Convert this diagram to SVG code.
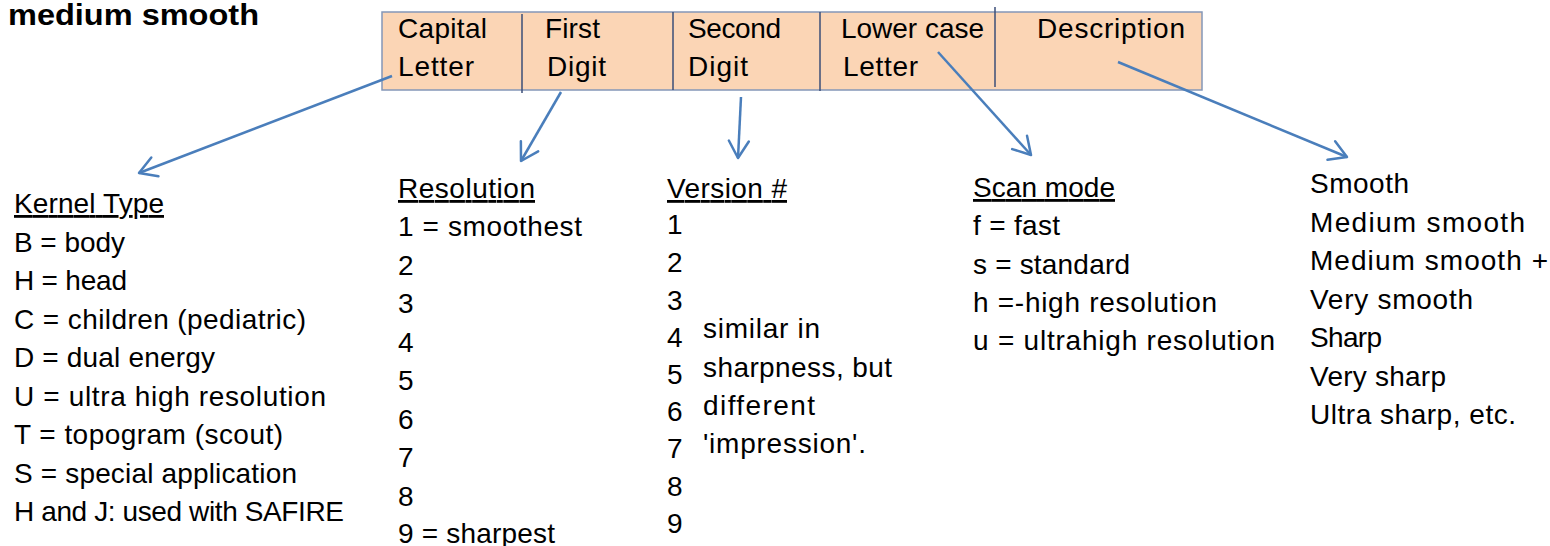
<svg xmlns="http://www.w3.org/2000/svg" width="1550" height="546" viewBox="0 0 1550 546">
<style>
text{font-family:"Liberation Sans",Arial,sans-serif;font-size:28px;fill:#000}
.title{font-weight:bold;font-size:29px}
.u{text-decoration:underline}
.conn{stroke:#4a7ebb;stroke-width:2.5;fill:none;marker-end:url(#ah)}
.div{stroke:#3b4e78;stroke-width:1.5}
</style>
<defs>
<marker id="ah" viewBox="0 -12 24 24" refX="20" refY="0" markerWidth="24" markerHeight="24" markerUnits="userSpaceOnUse" orient="auto">
<path d="M3,-10 L20,0 L3,10" fill="none" stroke="#4a7ebb" stroke-width="2.5" stroke-linecap="round" stroke-linejoin="round"/>
</marker>
</defs>
<rect width="1550" height="546" fill="#fff"/>
<text class="title" x="8" y="25" textLength="251" lengthAdjust="spacingAndGlyphs">medium smooth</text>

<g id="header">
<rect x="382" y="12" width="820" height="78" fill="#fbd5b5" stroke="#8497b8" stroke-width="1.5"/>
<line class="div" x1="522" y1="14" x2="522" y2="93"/>
<line class="div" x1="673" y1="12" x2="673" y2="90"/>
<line class="div" x1="820" y1="12" x2="820" y2="91"/>
<line class="div" x1="995" y1="7" x2="995" y2="87" stroke="#1f2f5f"/>
<text x="398" y="38" textLength="89">Capital</text>
<text x="398" y="76" textLength="76">Letter</text>
<text x="545" y="38" textLength="55">First</text>
<text x="547" y="76" textLength="59">Digit</text>
<text x="688" y="38" textLength="93">Second</text>
<text x="688" y="76" textLength="60">Digit</text>
<text x="841" y="38" textLength="143">Lower case</text>
<text x="843" y="76" textLength="75">Letter</text>
<text x="1037" y="38" textLength="148">Description</text>
</g>

<g id="connectors">
<line class="conn" x1="392" y1="76" x2="139" y2="173"/>
<line class="conn" x1="561" y1="92" x2="521" y2="161"/>
<line class="conn" x1="741" y1="97" x2="738" y2="158"/>
<line class="conn" x1="938" y1="52" x2="1031" y2="155"/>
<line class="conn" x1="1118" y1="62" x2="1347" y2="157"/>
</g>

<g id="kernel-type">
<text class="u" x="14" y="213" textLength="150">Kernel Type</text>
<text x="14" y="252" textLength="111">B = body</text>
<text x="14" y="290" textLength="113">H = head</text>
<text x="14" y="329" textLength="292">C = children (pediatric)</text>
<text x="14" y="367" textLength="201">D = dual energy</text>
<text x="14" y="406" textLength="312">U = ultra high resolution</text>
<text x="14" y="444" textLength="269">T = topogram (scout)</text>
<text x="14" y="483" textLength="283">S = special application</text>
<text x="14" y="521" textLength="330">H and J: used with SAFIRE</text>
</g>

<g id="resolution">
<text class="u" x="398" y="198" textLength="137">Resolution</text>
<text x="398" y="236" textLength="184">1 = smoothest</text>
<text x="398" y="275">2</text>
<text x="398" y="313">3</text>
<text x="398" y="352">4</text>
<text x="398" y="390">5</text>
<text x="398" y="429">6</text>
<text x="398" y="467">7</text>
<text x="398" y="506">8</text>
<text x="398" y="543" textLength="157">9 = sharpest</text>
</g>

<g id="version">
<text class="u" x="667" y="198" textLength="120">Version #</text>
<text x="667" y="234">1</text>
<text x="667" y="272">2</text>
<text x="667" y="310">3</text>
<text x="667" y="347">4</text>
<text x="667" y="384">5</text>
<text x="667" y="421">6</text>
<text x="667" y="458">7</text>
<text x="667" y="496">8</text>
<text x="667" y="533">9</text>
<text x="703" y="338" textLength="117">similar in</text>
<text x="703" y="377" textLength="189">sharpness, but</text>
<text x="703" y="415" textLength="112">different</text>
<text x="703" y="453" textLength="163">'impression'.</text>
</g>

<g id="scan-mode">
<text class="u" x="973" y="197" textLength="142">Scan mode</text>
<text x="973" y="235" textLength="87">f = fast</text>
<text x="973" y="274" textLength="157">s = standard</text>
<text x="973" y="312" textLength="244">h =-high resolution</text>
<text x="973" y="350" textLength="302">u = ultrahigh resolution</text>
</g>

<g id="description">
<text x="1310" y="193" textLength="99">Smooth</text>
<text x="1310" y="232" textLength="215">Medium smooth</text>
<text x="1310" y="270" textLength="238">Medium smooth +</text>
<text x="1310" y="309" textLength="163">Very smooth</text>
<text x="1310" y="347" textLength="72">Sharp</text>
<text x="1310" y="386" textLength="136">Very sharp</text>
<text x="1310" y="424" textLength="206">Ultra sharp, etc.</text>
</g>
</svg>
